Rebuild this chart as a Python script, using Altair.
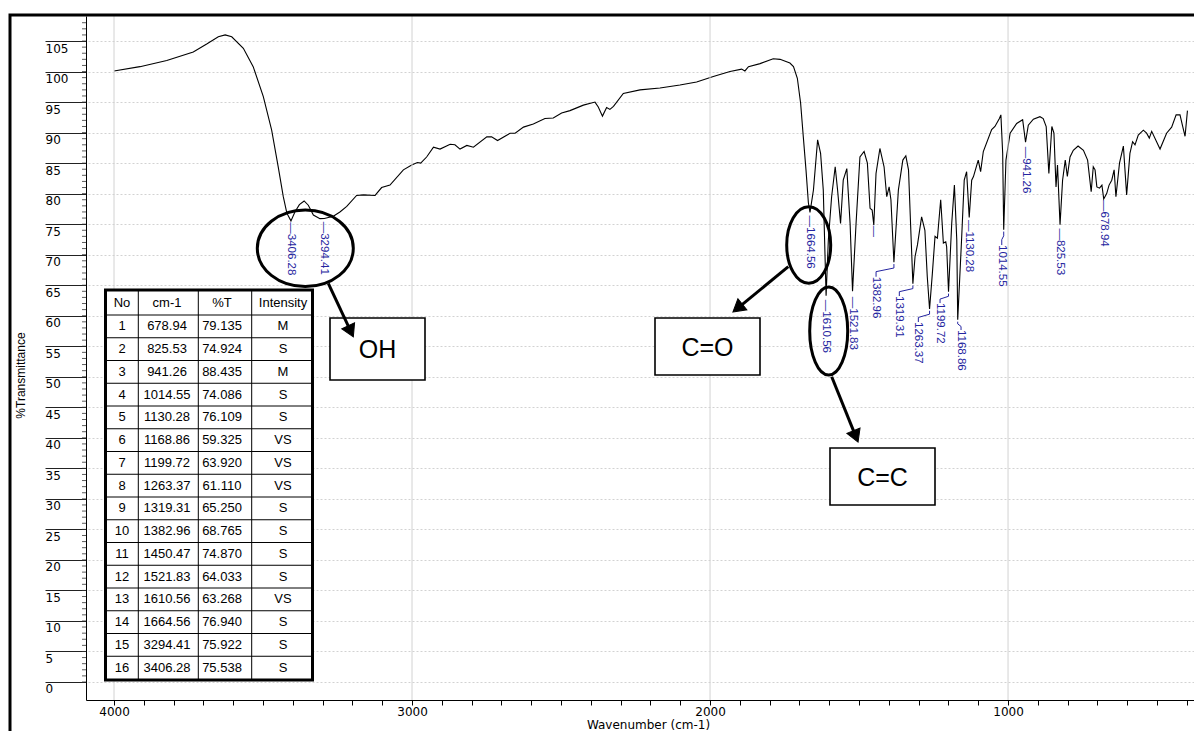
import math
import altair as alt
import pandas as pd

# ---------------- spectrum ----------------
wavenumber = [4000, 3913, 3823, 3734, 3689, 3650, 3627, 3605, 3566, 3533, 3499, 3471, 3449, 3432, 3420,
              3406.28, 3393, 3378, 3362, 3348, 3331, 3309, 3294.41, 3264, 3242, 3219, 3186, 3163, 3124,
              3102, 3074, 3029, 3001, 2982, 2971, 2951, 2928, 2906, 2872, 2856, 2839, 2816, 2794, 2749,
              2733, 2713, 2671, 2654, 2626, 2593, 2554, 2526, 2498, 2470, 2425, 2386, 2375, 2361, 2347,
              2336, 2324, 2291, 2235, 2168, 2101, 2045, 1989, 1933, 1894, 1883, 1871, 1832, 1788, 1765,
              1743, 1732, 1720, 1707, 1696, 1687, 1678, 1670, 1664.56, 1653, 1639, 1629, 1620, 1610.56,
              1603, 1592, 1580, 1572, 1562, 1553, 1541, 1530, 1521.83, 1510, 1497, 1483, 1472, 1463, 1456,
              1450.47, 1443, 1430, 1416, 1407, 1399, 1393, 1382.96, 1368, 1353, 1343, 1334, 1325, 1319.31,
              1312, 1304, 1290, 1279, 1271, 1263.37, 1254, 1245, 1237, 1226, 1217, 1209, 1206, 1199.72,
              1189, 1180, 1172, 1168.86, 1156, 1147, 1139, 1130.28, 1122, 1116, 1100, 1092, 1083, 1055,
              1044, 1029, 1024, 1018, 1014.55, 1007, 993, 971, 951, 941.26, 932, 915, 893, 882, 872, 863,
              853, 846, 839, 834, 825.53, 817, 808, 801, 792, 781, 765, 747, 733, 721, 714, 708, 702, 693,
              685, 678.94, 669, 661, 652, 644, 638, 626, 613, 602, 591, 582, 574, 563, 546, 535, 526, 518,
              490, 468, 451, 436, 423, 414, 406, 398]
transmittance = [100.1, 100.8, 101.8, 103.2, 104.5, 105.7, 106.0, 105.7, 103.8, 100.8, 95.9, 90.4, 84.4,
                 79.5, 76.8, 75.538, 77.0, 78.2, 78.8, 78.1, 76.5, 75.9, 75.922, 76.3, 77.0, 77.9, 79.7,
                 79.8, 79.7, 81.0, 81.4, 83.9, 84.7, 85.1, 85.0, 86.0, 87.6, 87.3, 88.1, 88.0, 87.3, 87.9,
                 87.6, 89.3, 89.3, 88.7, 89.9, 89.9, 90.9, 91.4, 92.3, 92.4, 93.2, 93.6, 94.5, 95.0, 94.2,
                 92.7, 94.1, 93.8, 94.3, 96.4, 97.0, 97.3, 97.8, 98.3, 99.2, 100.0, 100.4, 100.1, 100.8,
                 101.3, 102.1, 102.0, 101.6, 101.4, 100.8, 98.9, 94.8, 89.3, 83.9, 78.5, 76.94, 80.6, 88.8,
                 86.6, 80.6, 63.268, 72.4, 79.5, 84.4, 80.6, 75.1, 82.2, 84.1, 75.1, 64.033, 75.1, 86.0,
                 86.9, 85.0, 77.6, 77.3, 74.87, 83.3, 87.4, 84.4, 79.5, 81.1, 79.0, 68.765, 80.6, 85.5,
                 86.2, 83.9, 72.4, 65.25, 69.7, 71.6, 76.2, 74.0, 66.4, 61.11, 66.9, 73.0, 72.7, 79.0,
                 71.9, 72.1, 71.3, 63.92, 75.1, 81.4, 72.4, 59.325, 72.4, 82.2, 83.6, 76.109, 82.2, 82.8,
                 85.5, 83.6, 86.9, 90.5, 91.0, 92.3, 92.9, 86.6, 74.086, 85.5, 89.9, 91.5, 92.1, 88.435,
                 91.2, 92.2, 92.6, 92.3, 91.0, 83.3, 91.0, 89.9, 81.1, 84.7, 74.924, 82.2, 85.5, 82.8, 86.0,
                 87.1, 87.8, 87.1, 85.5, 80.3, 84.4, 83.9, 81.1, 80.9, 81.4, 79.135, 80.0, 81.4, 82.2, 83.9,
                 79.5, 85.0, 87.8, 79.8, 86.6, 88.5, 88.0, 89.6, 90.4, 89.9, 89.1, 90.2, 87.3, 89.9, 90.9,
                 92.9, 92.9, 91.0, 89.4, 93.6]

# ---------------- peak table ----------------
peak_no = [str(i) for i in range(1, 17)]
peak_cm = ["678.94", "825.53", "941.26", "1014.55", "1130.28", "1168.86", "1199.72", "1263.37",
           "1319.31", "1382.96", "1450.47", "1521.83", "1610.56", "1664.56", "3294.41", "3406.28"]
peak_pct = ["79.135", "74.924", "88.435", "74.086", "76.109", "59.325", "63.920", "61.110",
            "65.250", "68.765", "74.870", "64.033", "63.268", "76.940", "75.922", "75.538"]
peak_int = ["M", "S", "M", "S", "S", "VS", "VS", "VS", "S", "S", "S", "S", "VS", "S", "S", "S"]
table_header = ["No", "cm-1", "%T", "Intensity"]

# peak label placement: start of each rotated label (wavenumber, %T)
label_wn = [678.94, 825.53, 941.26, 1021.1, 1130.28, 1157.7, 1228.2, 1301.0,
            1364.8, 1442.9, 1450.47, 1521.83, 1610.56, 1664.56, 3294.41, 3406.28]
label_T = [78.95, 74.3, 87.7, 71.58, 75.7, 57.66, 62.08, 58.97,
           63.23, 66.39, 74.8, 63.1, 62.6, 76.4, 75.4, 75.3]
label_bent = [False, False, False, True, False, True, True, True,
              True, True, False, False, False, False, False, False]
label_text = ["—678.94", "—825.53", "—941.26", "1014.55", "—1130.28", "1168.86", "1199.72", "1263.37",
              "1319.31", "1382.96", "—", "—1521.83", "—1610.56", "—1664.56", "—3294.41", "—3406.28"]

group_labels = ["OH", "C=O", "C=C"]

y_ticks = list(range(0, 110, 5))
y_minor = list(range(0, 109))
x_ticks = list(range(400, 4001, 100))
x_grid = [4000, 3000, 2000, 1000]

# ---------------- layout ----------------
W, H = 1108, 684
PAD_L, PAD_T, PAD_B = 78, 8, 31
X_DOM = [376, 4094]
Y_DOM = [-2.95, 109.1]
OX, OY = 8 + PAD_L, 8 + PAD_T  # page position of the plot origin


def wn_at(px):
    return X_DOM[1] - (px - OX) * (X_DOM[1] - X_DOM[0]) / W


def T_at(py):
    return Y_DOM[1] - (py - OY) * (Y_DOM[1] - Y_DOM[0]) / H


xs = alt.Scale(domain=X_DOM, reverse=True, nice=False, zero=False)
ys = alt.Scale(domain=Y_DOM, nice=False, zero=False)

SANS = "Liberation Sans"
AXF = "DejaVu Sans"
BLUE = "#2424a0"

XAXIS = alt.Axis(
    values=x_ticks, format="d", labelExpr="datum.value % 1000 === 0 ? datum.label : ''",
    tickSize=5, tickColor="black", domainColor="black", labelColor="black",
    labelFont=AXF, labelFontSize=12, labelPadding=1, labelOverlap=False, labelFlush=False,
    grid=False, title="Wavenumber (cm-1)", titleFont=AXF, titleFontSize=12,
    titleFontWeight="normal", titleColor="black", titleX=562, titleY=24,
    titleBaseline="middle", titleAlign="center")
YAXIS = alt.Axis(
    values=y_ticks, tickSize=41, tickColor="#222222", domainColor="black",
    labelAlign="left", labelBaseline="top", labelPadding=0, labelOffset=2,
    labelFont=AXF, labelFontSize=12, labelColor="black", labelOverlap=False, labelFlush=False,
    labelBound=False, grid=True, gridColor="#d2d2d2", gridDash=[2, 2],
    title="%Transmittance", titleFont=SANS, titleFontSize=12, titleFontWeight="normal",
    titleColor="black", titleX=-66, titleY=359, titleAngle=270, titleAlign="center",
    titleBaseline="middle")


def X(f):
    return alt.X(f, type="quantitative", scale=xs, axis=XAXIS)


def Y(f):
    return alt.Y(f, type="quantitative", scale=ys, axis=YAXIS)


spec_df = pd.DataFrame({"wn": wavenumber, "T": transmittance})

spectrum = alt.Chart(spec_df).mark_line(color="black", strokeWidth=1.1).encode(
    x=X("wn"), y=Y("T"), order=alt.Order("wn:Q", sort="descending"))

vgrid = alt.Chart(pd.DataFrame({"wn": x_grid})).mark_rule(color="#d2d2d2", strokeWidth=1).encode(
    x=X("wn"))

minor = alt.Chart(pd.DataFrame({"T": y_minor})).mark_rule(color="#333333", strokeWidth=0.8).encode(
    y=Y("T"), x=alt.value(-4), x2=alt.value(0))

frame = alt.Chart(pd.DataFrame({"a": [0]})).mark_rect(
    fill=None, stroke="black", strokeWidth=3).encode(
    x=alt.value(-76), x2=alt.value(W + 30), y=alt.value(-1), y2=alt.value(H + 60))

# peak labels
peak_T_val = [float(s) for s in peak_pct]
peak_wn_val = [float(s) for s in peak_cm]
lab_df = pd.DataFrame({"wn": label_wn, "T": label_T, "txt": label_text})
labels = alt.Chart(lab_df).mark_text(
    angle=90, align="left", baseline="middle", font=SANS, fontSize=11.5, color=BLUE).encode(
    x=X("wn"), y=Y("T"), text="txt:N")

lead_rows = []
for i in range(16):
    if label_bent[i]:
        pw, pt = peak_wn_val[i], peak_T_val[i]
        lw, lt = label_wn[i], label_T[i]
        d = pt - lt
        pts = [(pw, pt - 0.3), (pw, pt - 0.4 * d), (lw, lt + 0.35 * d), (lw, lt)]
        for k, (a, b) in enumerate(pts):
            lead_rows.append({"id": i, "k": k, "wn": a, "T": b})
leaders = alt.Chart(pd.DataFrame(lead_rows)).mark_line(color=BLUE, strokeWidth=1).encode(
    x=X("wn"), y=Y("T"), detail="id:N", order="k:Q")

# ---------------- table ----------------
t_left, t_right, t_top, t_bottom = 105.5, 312.5, 290.0, 680.0
head_line, row_h = 315.0, 22.75
col_lines = [138.3, 198.3, 251.7]
col_centers = [122, 167, 222, 283]

table_box = alt.Chart(pd.DataFrame({"x1": [wn_at(t_left)], "x2": [wn_at(t_right)],
                                    "y1": [T_at(t_top)], "y2": [T_at(t_bottom)]})).mark_rect(
    fill="white", stroke="black", strokeWidth=3).encode(
    x=X("x1"), x2="x2:Q", y=Y("y1"), y2="y2:Q")

line_rows = []
for c in col_lines:
    line_rows.append({"x1": wn_at(c), "x2": wn_at(c), "y1": T_at(t_top), "y2": T_at(t_bottom)})
for k in range(16):
    yy = head_line + k * row_h
    line_rows.append({"x1": wn_at(t_left), "x2": wn_at(t_right), "y1": T_at(yy), "y2": T_at(yy)})
table_lines = alt.Chart(pd.DataFrame(line_rows)).mark_rule(color="black", strokeWidth=1).encode(
    x=X("x1"), x2="x2:Q", y=Y("y1"), y2="y2:Q")

cell_rows = []
for j, h in enumerate(table_header):
    cell_rows.append({"wn": wn_at(col_centers[j]), "T": T_at((t_top + head_line) / 2), "txt": h})
for i in range(16):
    yy = head_line + (i + 0.5) * row_h
    for j, v in enumerate([peak_no[i], peak_cm[i], peak_pct[i], peak_int[i]]):
        cell_rows.append({"wn": wn_at(col_centers[j]), "T": T_at(yy), "txt": v})
table_text = alt.Chart(pd.DataFrame(cell_rows)).mark_text(
    font=SANS, fontSize=13, color="black", align="center", baseline="middle").encode(
    x=X("wn"), y=Y("T"), text="txt:N")

# ---------------- annotations ----------------
boxes_px = [(330, 425, 318, 380), (655, 760, 318, 375), (830, 935, 448, 505)]
box_df = pd.DataFrame({
    "x1": [wn_at(b[0]) for b in boxes_px], "x2": [wn_at(b[1]) for b in boxes_px],
    "y1": [T_at(b[2]) for b in boxes_px], "y2": [T_at(b[3]) for b in boxes_px],
    "cx": [wn_at((b[0] + b[1]) / 2) for b in boxes_px],
    "cy": [T_at((b[2] + b[3]) / 2 + 1) for b in boxes_px],
    "txt": group_labels})
boxes = alt.Chart(box_df).mark_rect(fill="white", stroke="black", strokeWidth=1.6).encode(
    x=X("x1"), x2="x2:Q", y=Y("y1"), y2="y2:Q")
box_text = alt.Chart(box_df).mark_text(
    font=SANS, fontSize=25, color="black", align="center", baseline="middle").encode(
    x=X("cx"), y=Y("cy"), text="txt:N")

ellipses_px = [(305.3, 248.3, 48, 38.3), (808.7, 245.0, 22, 38.3), (828.7, 331.0, 19, 44)]
ell_layers = []
for (cx, cy, rx, ry) in ellipses_px:
    m = max(rx, ry)
    a, b = rx / m, ry / m
    path = f"M {-a} 0 A {a} {b} 0 1 0 {a} 0 A {a} {b} 0 1 0 {-a} 0 Z"
    ell_layers.append(alt.Chart(pd.DataFrame({"wn": [wn_at(cx)], "T": [T_at(cy)]})).mark_point(
        shape=path, size=(2 * m) ** 2, filled=False, stroke="black", strokeWidth=3, opacity=1).encode(
        x=X("wn"), y=Y("T")))

arrows_px = [((328.3, 283.3), (353.3, 336.7)), ((788.3, 266.7), (733.0, 312.0)),
             ((831.7, 376.7), (858.0, 442.0))]
arrow_layers = []
shaft_rows = []
for (s, t) in arrows_px:
    dx, dy = t[0] - s[0], t[1] - s[1]
    L = math.hypot(dx, dy)
    ux, uy = dx / L, dy / L
    ang = math.degrees(math.atan2(dx, -dy)) % 360
    hc = (t[0] - ux * 6, t[1] - uy * 6)
    se = (t[0] - ux * 9, t[1] - uy * 9)
    shaft_rows.append({"x1": wn_at(s[0]), "y1": T_at(s[1]), "x2": wn_at(se[0]), "y2": T_at(se[1])})
    arrow_layers.append(alt.Chart(pd.DataFrame({"wn": [wn_at(hc[0])], "T": [T_at(hc[1])]})).mark_point(
        shape="triangle-up", size=200, filled=True, fill="black", stroke="black", strokeWidth=1,
        opacity=1, angle=ang).encode(x=X("wn"), y=Y("T")))
shafts = alt.Chart(pd.DataFrame(shaft_rows)).mark_rule(color="black", strokeWidth=3).encode(
    x=X("x1"), x2="x2:Q", y=Y("y1"), y2="y2:Q")

chart = alt.layer(
    spectrum, vgrid, minor, leaders, labels, table_box, table_lines, table_text,
    boxes, box_text, *ell_layers, shafts, *arrow_layers, frame
).properties(
    width=W, height=H,
    autosize=alt.AutoSizeParams(type="none"),
    padding={"left": PAD_L, "top": PAD_T, "right": 0, "bottom": PAD_B},
    background="white",
).configure_view(stroke=None)

chart.save("out.html", embed_options={"renderer": "svg", "actions": False})
